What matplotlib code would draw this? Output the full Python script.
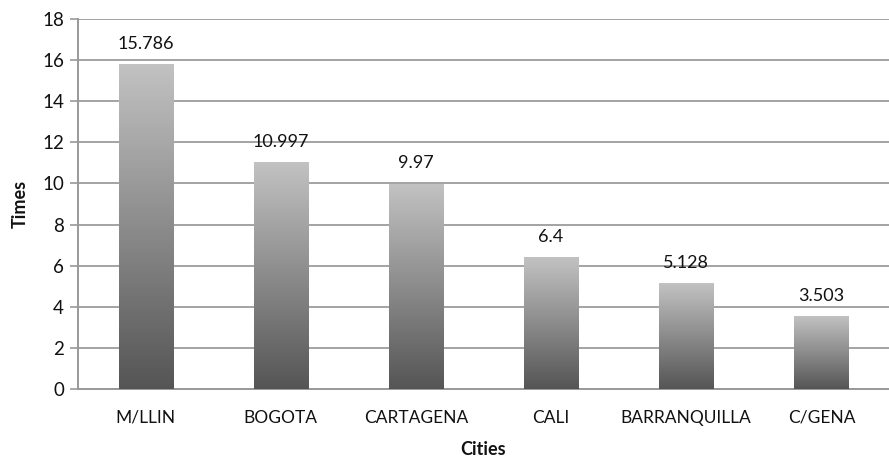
import numpy as np
import matplotlib
matplotlib.use("Agg")
import matplotlib.pyplot as plt
from matplotlib.colors import LinearSegmentedColormap

cities = ["M/LLIN", "BOGOTA", "CARTAGENA", "CALI", "BARRANQUILLA", "C/GENA"]
times = [15.786, 10.997, 9.97, 6.4, 5.128, 3.503]
labels = ["15.786", "10.997", "9.97", "6.4", "5.128", "3.503"]
yticks = [0, 2, 4, 6, 8, 10, 12, 14, 16, 18]

plt.rcParams['font.family'] = ['Lato', 'DejaVu Sans']
fig = plt.figure(figsize=(8.89, 4.58), dpi=100)
ax = fig.add_axes([78/889, 1-389/458, (889-78)/889, (389-19)/458])

x = np.arange(len(cities))
bars = ax.bar(x, times, width=0.4, color="none", edgecolor="none", zorder=3)
cmap = LinearSegmentedColormap.from_list("g", ["#555555", "#c2c2c2"])
grad = np.linspace(0, 1, 256).reshape(-1, 1)
for b in bars:
    x0, y0 = b.get_x(), b.get_y()
    w, h = b.get_width(), b.get_height()
    ax.imshow(grad, cmap=cmap, aspect="auto", origin="lower",
              extent=[x0, x0 + w, y0, y0 + h], zorder=3)
for xi, v, lab in zip(x, times, labels):
    ax.text(xi, v + 0.62, lab, ha="center", va="bottom", fontsize=13, color="#111111")

ax.set_xlim(-0.5, len(cities) - 0.5)
ax.set_ylim(0, 18)
ax.set_yticks(yticks)
ax.set_xticks(x)
ax.set_xticklabels(cities, fontsize=12.5)
ax.tick_params(axis="y", labelsize=13.5, length=6, color="#999999", width=1.2, pad=4)
ax.tick_params(axis="x", length=0, pad=15, colors="#111111")
ax.tick_params(axis="y", colors="#999999", labelcolor="#111111")
ax.grid(axis="y", color="#a3a3a3", linewidth=1.4, zorder=0)
ax.set_axisbelow(True)
for s in ["top", "right"]:
    ax.spines[s].set_visible(False)
for s in ["left", "bottom"]:
    ax.spines[s].set_color("#999999")
    ax.spines[s].set_linewidth(1.4)
ax.set_ylabel("Times", fontsize=13, fontweight="bold", labelpad=10, color="#111111")
ax.set_xlabel("Cities", fontsize=13, fontweight="bold", labelpad=11, color="#111111")

fig.savefig("out.png", dpi=100)
